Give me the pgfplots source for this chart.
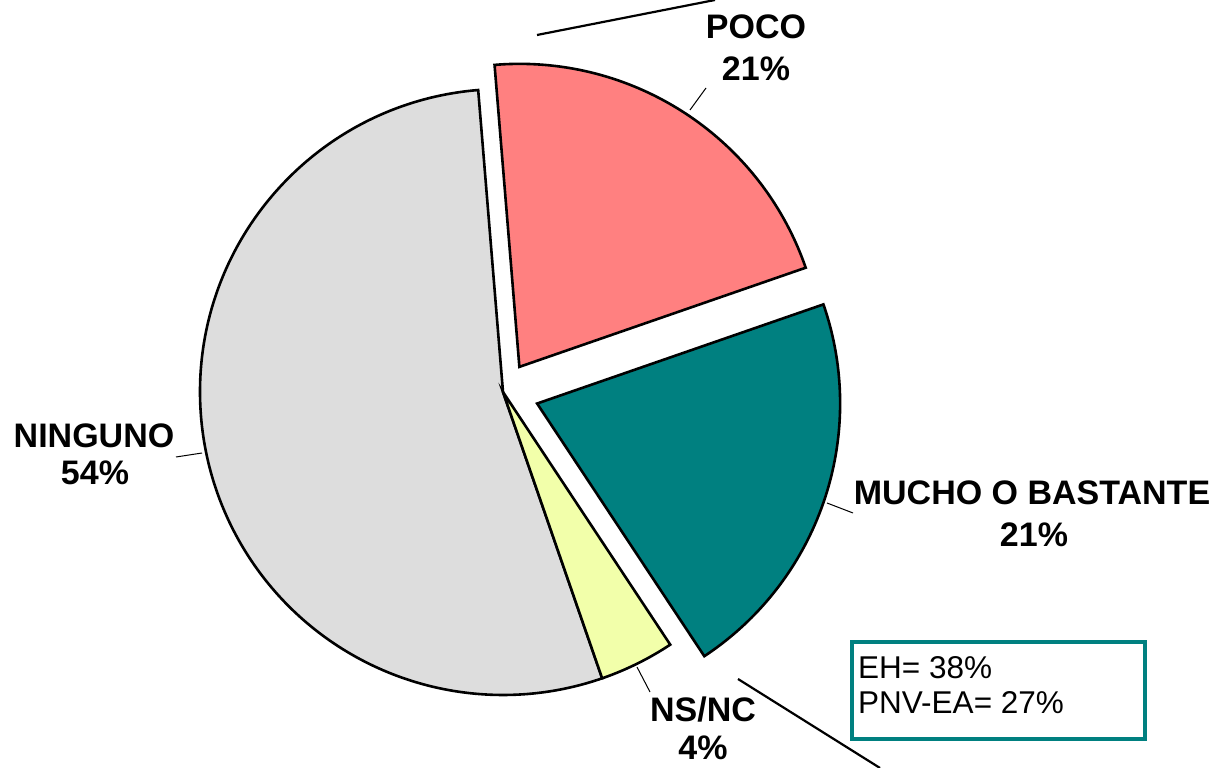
\documentclass[border=0pt]{standalone}
\usepackage{fontspec}
\setmainfont{Liberation Sans}
\usepackage{pgfplots}
\usepackage{pgfplotstable}
\pgfplotsset{compat=1.18}
\definecolor{ninguno}{HTML}{DDDDDD}
\definecolor{nsnc}{HTML}{F2FFAA}
\definecolor{mucho}{HTML}{008080}
\definecolor{poco}{HTML}{FF8080}
\pgfplotstableread{
value explode color
54 0 ninguno
4 0 nsnc
21 36 mucho
21 30 poco
}\piedata
\begin{document}
\begin{tikzpicture}
\begin{axis}[
  width=1218pt, height=768pt, scale only axis,
  xmin=0, xmax=1218, ymin=0, ymax=768,
  enlargelimits=false, hide axis, clip=false]
\pgfmathsetmacro\startang{94.7}
\pgfplotsforeachungrouped \i in {0,...,3}{
  \pgfplotstablegetelem{\i}{value}\of\piedata \let\val\pgfplotsretval
  \pgfplotstablegetelem{\i}{explode}\of\piedata \let\ex\pgfplotsretval
  \pgfplotstablegetelem{\i}{color}\of\piedata \let\col\pgfplotsretval
  \pgfmathsetmacro\endang{\startang+3.6*\val}
  \pgfmathsetmacro\midang{(\startang+\endang)/2}
  \pgfmathsetmacro\cx{503+\ex*cos(\midang)}
  \pgfmathsetmacro\cy{376+\ex*sin(\midang)}
  \edef\temp{\noexpand\filldraw[fill=\col, draw=black, line width=2.6pt, line join=miter]
    (axis cs:\cx,\cy) -- ++(\startang:303pt) arc[start angle=\startang, end angle=\endang, radius=303pt] -- cycle;}
  \temp
  \global\let\startang\endang
}
% leader lines
\draw[line width=1pt] (axis cs:706,680) -- (axis cs:690,658);
\draw[line width=1pt] (axis cs:827,265) -- (axis cs:853,255);
\draw[line width=1pt] (axis cs:176,311) -- (axis cs:202,315);
\draw[line width=1pt] (axis cs:637,101) -- (axis cs:650,76);
% long lines
\draw[line width=2.2pt] (axis cs:537,733) -- (axis cs:715,768);
\draw[line width=2.2pt] (axis cs:738,89) -- (axis cs:880,0);
% labels
\tikzset{lab/.style={anchor=base, inner sep=0pt, font=\bfseries\fontsize{34}{40}\selectfont}}
\node[lab] at (axis cs:756,729) {POCO};
\node[lab] at (axis cs:756,687) {21\%};
\node[lab] at (axis cs:1032,263) {MUCHO O BASTANTE};
\node[lab] at (axis cs:1034,221) {21\%};
\node[lab] at (axis cs:94,320) {NINGUNO};
\node[lab] at (axis cs:95,283) {54\%};
\node[lab] at (axis cs:703,46) {NS/NC};
\node[lab] at (axis cs:703,8) {4\%};
% box
\draw[draw=mucho, line width=4pt, fill=white] (axis cs:852,126) rectangle (axis cs:1145,29);
\node[anchor=base west, inner sep=0pt, font=\fontsize{31.5}{35}\selectfont] at (axis cs:858,89) {EH= 38\%};
\node[anchor=base west, inner sep=0pt, font=\fontsize{31.5}{35}\selectfont] at (axis cs:858,54) {PNV-EA= 27\%};
\end{axis}
\pgfresetboundingbox
\useasboundingbox (current axis.south west) rectangle (current axis.north east);
\end{tikzpicture}
\end{document}
